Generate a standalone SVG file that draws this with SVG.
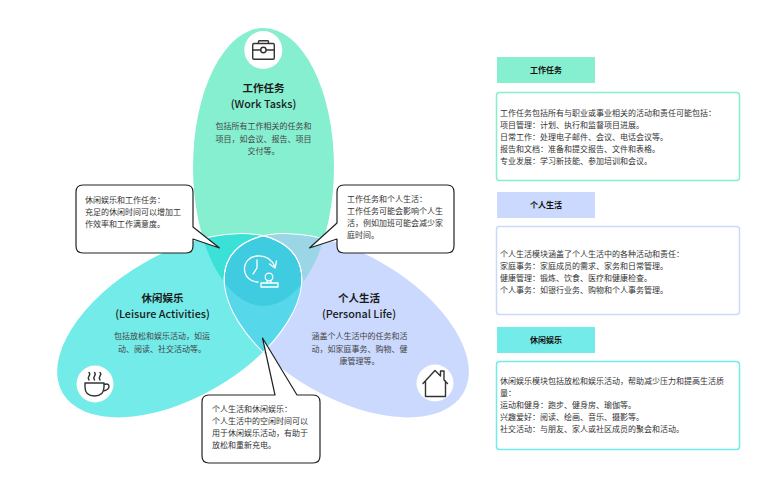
<svg xmlns="http://www.w3.org/2000/svg" width="766" height="500" viewBox="0 0 766 500">
<style>
text{font-family:"Noto Sans CJK SC","Noto Sans",sans-serif;fill:#333}
.t{font-size:10.500px;font-weight:700;fill:#1a1a1a;text-anchor:middle}
.e{font-size:10.800px;font-weight:500;fill:#1a1a1a;text-anchor:middle}
.b{font-size:8px;text-anchor:middle;fill:#444}
.c{font-size:8px;fill:#333}
.h{font-size:8px;font-weight:700;fill:#111;text-anchor:middle}
.call{fill:#fff;stroke:#222;stroke-width:1.2;stroke-linejoin:round}
.ic{fill:none;stroke:#333;stroke-width:1.4;stroke-linejoin:round;stroke-linecap:round}
.w{fill:none;stroke:#fff;stroke-width:1.3;stroke-linejoin:round;stroke-linecap:round}
.edge{fill:none;stroke:#fff;stroke-width:1}
</style>
<defs>
<ellipse id="eT" cx="263.500" cy="167" rx="70.500" ry="139"/>
<ellipse id="eL" cx="179.500" cy="325.500" rx="72" ry="135" transform="rotate(60 179.500 325.500)"/>
<ellipse id="eR" cx="346.500" cy="325.500" rx="72" ry="135" transform="rotate(-60 346.500 325.500)"/>
<clipPath id="cT"><use href="#eT"/></clipPath>
<clipPath id="cL"><use href="#eL"/></clipPath>
<clipPath id="cR"><use href="#eR"/></clipPath>
</defs>
<rect width="766" height="500" fill="#fff"/>
<g id="venn">
<use href="#eT" fill="#86EFCF"/>
<use href="#eL" fill="#72EBE9"/>
<use href="#eR" fill="#CAD9FD"/>
<g clip-path="url(#cT)"><use href="#eL" fill="#3BE0D6"/><use href="#eR" fill="#9AD6E6"/></g>
<g clip-path="url(#cL)"><use href="#eR" fill="#57D8EA"/></g>
<g clip-path="url(#cT)"><g clip-path="url(#cL)"><use href="#eR" fill="#40CCE0"/></g></g>
<g clip-path="url(#cT)"><use href="#eL" class="edge"/><use href="#eR" class="edge"/></g>
<g clip-path="url(#cL)"><use href="#eR" class="edge"/></g>
<g clip-path="url(#cR)"><use href="#eL" class="edge"/></g>
<g id="center-icon">
<path class="w" d="M257 256A13 13 0 1 0 258 282"/>
<path class="w" d="M257 260V268L253 274"/>
<path class="w" d="M257 256Q270 255 275 267M269.500 264L275 268L276.500 261"/>
<circle class="w" cx="269" cy="277" r="3.800"/>
<path class="w" d="M267.500 280.500L266.500 283H271.500L270.500 280.500M261 283H278V287H261Z"/>
</g>
</g>
<g id="node-work">
<circle cx="263.300" cy="50" r="19" fill="#fff"/>
<path class="ic" d="M254 43.500H273Q274.300 43.500 274.300 45V57.800Q274.300 59.300 273 59.300H254Q252.700 59.300 252.700 57.800V45Q252.700 43.500 254 43.500ZM258.500 43.500V41.500Q258.500 40.700 259.300 40.700H267.700Q268.500 40.700 268.500 41.500V43.500M252.700 50H260.500M266.300 50H274.300"/>
<circle class="ic" cx="263.400" cy="50" r="2.700"/>
<text class="t" x="263.500" y="92">工作任务</text>
<text class="e" x="263.500" y="107.500">(Work Tasks)</text>
<text class="b" x="263.500" y="129">包括所有工作相关的任务和</text>
<text class="b" x="263.500" y="141.500">项目，如会议、报告、项目</text>
<text class="b" x="263.500" y="154">交付等。</text>
</g>
<g id="node-leisure">
<circle cx="95" cy="384" r="18.500" fill="#fff"/>
<path class="ic" d="M85 383H104V387Q104 396 94.500 396Q85 396 85 387ZM104 384.500Q109 383 109 386.500Q109 390 103 391M89 380Q87.500 378 89 376Q90.500 374 89 372.500M94.500 380Q93 378 94.500 376Q96 374 94.500 372.500M100 380Q98.500 378 100 376Q101.500 374 100 372.500"/>
<text class="t" x="162.500" y="302">休闲娱乐</text>
<text class="e" x="162.500" y="317.500">(Leisure Activities)</text>
<text class="b" x="162" y="339">包括放松和娱乐活动，如运</text>
<text class="b" x="162" y="351.500">动、阅读、社交活动等。</text>
</g>
<g id="node-personal">
<circle cx="435" cy="383" r="18.500" fill="#fff"/>
<path class="ic" d="M423 383.500L435 370.500L440.500 376V371H444V380L447.500 383.500M425.500 381V396.500H445.500V381"/>
<text class="t" x="359" y="302">个人生活</text>
<text class="e" x="359" y="317.500">(Personal Life)</text>
<text class="b" x="359.500" y="339">涵盖个人生活中的任务和活</text>
<text class="b" x="359.500" y="351.500">动，如家庭事务、购物、健</text>
<text class="b" x="359.500" y="364">康管理等。</text>
</g>
<g id="connectors">
<path id="callout-left" class="call" d="M83 185H186Q193 185 193 192V227L219.500 248L193 239V246Q193 253 186 253H83Q76 253 76 246V192Q76 185 83 185Z"/>
<path id="callout-right" class="call" d="M344 185H447Q454 185 454 192V246Q454 253 447 253H344Q337 253 337 246V239L309.500 248L337 223V192Q337 185 344 185Z"/>
<path id="callout-bottom" class="call" d="M209 395H275L262.500 338L297 395H313Q320 395 320 402V456Q320 463 313 463H209Q202 463 202 456V402Q202 395 209 395Z"/>
</g>
<g id="callout-text">
<text class="c" x="85" y="202.500">休闲娱乐和工作任务：</text>
<text class="c" x="85" y="214.500">充足的休闲时间可以增加工</text>
<text class="c" x="85" y="226.500">作效率和工作满意度。</text>
<text class="c" x="347" y="201.500">工作任务和个人生活：</text>
<text class="c" x="347" y="213.500">工作任务可能会影响个人生</text>
<text class="c" x="347" y="225.500">活，例如加班可能会减少家</text>
<text class="c" x="347" y="237.500">庭时间。</text>
<text class="c" x="212" y="411.500">个人生活和休闲娱乐：</text>
<text class="c" x="212" y="423.500">个人生活中的空闲时间可以</text>
<text class="c" x="212" y="436">用于休闲娱乐活动，有助于</text>
<text class="c" x="212" y="448">放松和重新充电。</text>
</g>
<g id="panel-work">
<rect x="497" y="57" width="98" height="26" fill="#86EFCF"/>
<text class="h" x="546" y="73">工作任务</text>
<rect x="496.500" y="92.500" width="243" height="88" rx="3" fill="#fff" stroke="#86EFCF" stroke-width="1.500"/>
<text class="c" x="500" y="115.500">工作任务包括所有与职业或事业相关的活动和责任可能包括：</text>
<text class="c" x="500" y="127.500">项目管理：计划、执行和监督项目进展。</text>
<text class="c" x="500" y="139.500">日常工作：处理电子邮件、会议、电话会议等。</text>
<text class="c" x="500" y="151.500">报告和文档：准备和提交报告、文件和表格。</text>
<text class="c" x="500" y="163.500">专业发展：学习新技能、参加培训和会议。</text>
</g>
<g id="panel-personal">
<rect x="497" y="192" width="98" height="26" fill="#CAD9FD"/>
<text class="h" x="546" y="208">个人生活</text>
<rect x="496.500" y="226.500" width="243" height="88" rx="3" fill="#fff" stroke="#CAD9FD" stroke-width="1.500"/>
<text class="c" x="500" y="256.500">个人生活模块涵盖了个人生活中的各种活动和责任：</text>
<text class="c" x="500" y="268.500">家庭事务：家庭成员的需求、家务和日常管理。</text>
<text class="c" x="500" y="280.500">健康管理：锻炼、饮食、医疗和健康检查。</text>
<text class="c" x="500" y="292.500">个人事务：如银行业务、购物和个人事务管理。</text>
</g>
<g id="panel-leisure">
<rect x="497" y="327" width="98" height="26" fill="#72EBE9"/>
<text class="h" x="546" y="342.500">休闲娱乐</text>
<rect x="496.500" y="361.500" width="243" height="88" rx="3" fill="#fff" stroke="#72EBE9" stroke-width="1.500"/>
<text class="c" x="500" y="384">休闲娱乐模块包括放松和娱乐活动，帮助减少压力和提高生活质</text>
<text class="c" x="500" y="396">量：</text>
<text class="c" x="500" y="408">运动和健身：跑步、健身房、瑜伽等。</text>
<text class="c" x="500" y="420">兴趣爱好：阅读、绘画、音乐、摄影等。</text>
<text class="c" x="500" y="432">社交活动：与朋友、家人或社区成员的聚会和活动。</text>
</g>
</svg>
